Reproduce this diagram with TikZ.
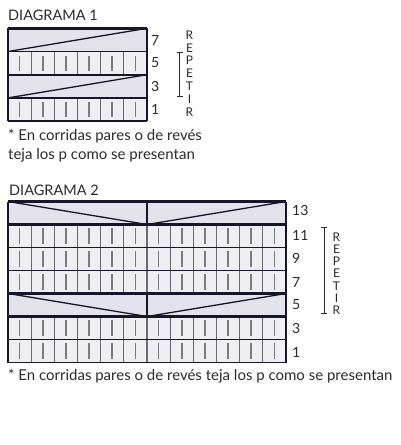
\documentclass[tikz,border=0pt]{standalone}
\usepackage{fontspec}
\setmainfont{Lato}
\definecolor{linec}{HTML}{16162A}
\definecolor{innerc}{HTML}{6A6A72}
\definecolor{cellc}{HTML}{EFEFF3}
\definecolor{wedgec}{HTML}{E4E2EA}
\definecolor{barc}{HTML}{7A7A80}
\definecolor{txtc}{HTML}{2A2A2A}
\tikzset{
  gridline/.style={draw=linec, line width=1.3pt},
  innerline/.style={draw=innerc, line width=1.2pt},
  heavyline/.style={draw=linec, line width=2.4pt},
  stitchbar/.style={draw=barc, line width=1.6pt},
  rownum/.style={font=\fontsize{14}{14}\selectfont, text=txtc, anchor=west, inner sep=0pt},
  repletter/.style={font=\fontsize{12}{12}\selectfont, text=txtc, inner sep=0pt},
  title/.style={font=\fontsize{14.5}{14.5}\selectfont, text=txtc, anchor=west, inner sep=0pt},
  note/.style={font=\fontsize{15}{15}\selectfont, text=txtc, anchor=west, inner sep=0pt},
  bracket/.style={draw=txtc, line width=0.9pt}
}
\begin{document}
\begin{tikzpicture}[x=1pt,y=-1pt]
\useasboundingbox (0,0) rectangle (400,445);
% ---------------- DIAGRAMA 1 ----------------
\node[title] (t1) at (8,15) {DIAGRAMA 1};
\def\xa{8}\def\xb{147}\def\cw{23.1667}
\fill[cellc] (\xa,28.3) rectangle (\xb,121.1);
\fill[wedgec] (\xa,28.3) rectangle (\xb,51.5);
\fill[wedgec] (\xa,74.7) rectangle (\xb,97.9);
\foreach \ya/\yb in {51.5/74.7, 97.9/121.1}{
  \foreach \k in {1,...,5}{\draw[innerline] ({\xa+\k*\cw},\ya) -- ({\xa+\k*\cw},\yb);}
  \foreach \k in {0,...,5}{\draw[stitchbar] ({\xa+(\k+0.5)*\cw},{(\ya+\yb)/2-7.5}) -- ({\xa+(\k+0.5)*\cw},{(\ya+\yb)/2+7.5});}
}
\foreach \y in {51.5, 97.9, 121.1}{\draw[gridline] (\xa,\y) -- (\xb,\y);}
\draw[gridline] (\xa,28.3) -- (\xa,121.1);
\draw[gridline] (\xb,28.3) -- (\xb,121.1);
\draw[heavyline] (\xa,28.3) -- (\xb,28.3);
\draw[heavyline] (\xa,74.7) -- (\xb,74.7);
\draw[gridline] (\xa,51.5) -- (\xb,28.3);
\draw[gridline] (\xa,97.9) -- (\xb,74.7);
\node[rownum] (n7) at (151,40) {7};
\node[rownum] (n5) at (151,63) {5};
\node[rownum] (n3) at (151,86) {3};
\node[rownum] (n1) at (151,109) {1};
\coordinate (b1t) at (179.5,52.5);
\coordinate (b1b) at (179.5,96);
\draw[bracket] (b1t) -- (b1b);
\draw[bracket] ([xshift=-3pt]b1t) -- ([xshift=3pt]b1t);
\draw[bracket] ([xshift=-3pt]b1b) -- ([xshift=3pt]b1b);
\foreach \L [count=\i from 0] in {R,E,P,E,T,I,R}{
  \node[repletter] (r1\i) at (189.5,{35+\i*12.8}) {\L};
}
\node[note] (f1a) at (8,136) {* En corridas pares o de revés};
\node[note] (f1b) at (8,155) {teja los p como se presentan};
% ---------------- DIAGRAMA 2 ----------------
\node[title] (t2) at (9,190) {DIAGRAMA 2};
\def\xc{8}\def\xd{286}\def\cwb{23.1667}\def\xm{147}
\fill[cellc] (\xc,201.5) rectangle (\xd,362.5);
\fill[wedgec] (\xc,201.5) rectangle (\xd,224.5);
\fill[wedgec] (\xc,293.5) rectangle (\xd,316.5);
\foreach \ya/\yb in {224.5/247.5, 247.5/270.5, 270.5/293.5, 316.5/339.5, 339.5/362.5}{
  \foreach \k in {1,...,11}{\draw[innerline] ({\xc+\k*\cwb},\ya) -- ({\xc+\k*\cwb},\yb);}
  \foreach \k in {0,...,11}{\draw[stitchbar] ({\xc+(\k+0.5)*\cwb},{(\ya+\yb)/2-8}) -- ({\xc+(\k+0.5)*\cwb},{(\ya+\yb)/2+8});}
}
\foreach \y in {247.5, 270.5, 339.5, 362.5}{\draw[gridline] (\xc,\y) -- (\xd,\y);}
\draw[gridline] (\xc,201.5) -- (\xc,362.5);
\draw[gridline] (\xd,201.5) -- (\xd,362.5);
\draw[gridline] (\xm,201.5) -- (\xm,224.5);
\draw[gridline] (\xm,293.5) -- (\xm,316.5);
\foreach \y in {201.5, 224.5, 293.5, 316.5}{\draw[heavyline] (\xc,\y) -- (\xd,\y);}
\draw[gridline] (\xc,201.5) -- (\xm,224.5) -- (\xd,201.5);
\draw[gridline] (\xc,293.5) -- (\xm,316.5) -- (\xd,293.5);
\foreach \t/\y [count=\i] in {13/210, 11/235, 9/258, 7/282, 5/305, 3/328, 1/352}{
  \node[rownum] (m\i) at (292,\y) {\t};
}
\coordinate (b2t) at (324.3,227);
\coordinate (b2b) at (324.3,313);
\draw[bracket] (b2t) -- (b2b);
\draw[bracket] ([xshift=-3pt]b2t) -- ([xshift=3pt]b2t);
\draw[bracket] ([xshift=-3pt]b2b) -- ([xshift=3pt]b2b);
\foreach \L [count=\i from 0] in {R,E,P,E,T,I,R}{
  \node[repletter] (r2\i) at (336.5,{237+\i*12.2}) {\L};
}
\node[note] (f2) at (8,376) {* En corridas pares o de revés teja los p como se presentan};
\end{tikzpicture}
\end{document}
